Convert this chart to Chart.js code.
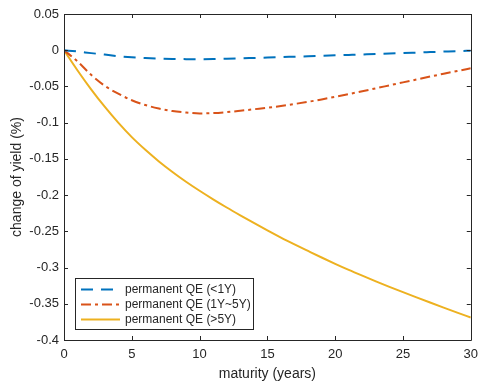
<!DOCTYPE html>
<html><head><meta charset="utf-8">
<script src="https://cdn.jsdelivr.net/npm/chart.js@4/dist/chart.umd.min.js"></script>
<style>html,body{margin:0;padding:0;background:#fff;}</style>
</head><body>
<canvas id="c" width="485" height="381" style="display:block;width:485px;height:381px"></canvas>
<script>
// ---- data ----
const maturity = [0,1,2,3,4,5,6,7,8,9,10,11,12,13,14,15,16,17,18,19,20,21,22,23,24,25,26,27,28,29,30];
const qeShort = [0,-0.0018,-0.0040,-0.0060,-0.0082,-0.0098,-0.0108,-0.0115,-0.0120,-0.0123,-0.0124,-0.0122,-0.0118,-0.0113,-0.0107,-0.0101,-0.0095,-0.0089,-0.0083,-0.0077,-0.0071,-0.0065,-0.0059,-0.0053,-0.0046,-0.0040,-0.0033,-0.0026,-0.0019,-0.0012,-0.0006];
const qeMid = [0,-0.0155,-0.0340,-0.0490,-0.0600,-0.0690,-0.0757,-0.0805,-0.0840,-0.0860,-0.0873,-0.0868,-0.0855,-0.0836,-0.0815,-0.0795,-0.0770,-0.0742,-0.0712,-0.0679,-0.0643,-0.0605,-0.0566,-0.0526,-0.0485,-0.0444,-0.0404,-0.0364,-0.0325,-0.0287,-0.0250];
const qeLong = [0,-0.0280,-0.0540,-0.0780,-0.1000,-0.1200,-0.1375,-0.1535,-0.1680,-0.1815,-0.1940,-0.2058,-0.2171,-0.2279,-0.2384,-0.2487,-0.2586,-0.2680,-0.2771,-0.2861,-0.2948,-0.3032,-0.3112,-0.3190,-0.3266,-0.3340,-0.3412,-0.3483,-0.3553,-0.3622,-0.3690];
const seriesLabels = ['permanent QE (<1Y)', 'permanent QE (1Y~5Y)', 'permanent QE (>5Y)'];
const xTicks = [0,5,10,15,20,25,30];
const yTicks = [0.05,0,-0.05,-0.1,-0.15,-0.2,-0.25,-0.3,-0.35,-0.4];
const xTitle = 'maturity (years)';
const yTitle = 'change of yield (%)';

const AX = '#262626';
const FONT = '"Liberation Sans", Arial, Helvetica, sans-serif';

function pts(ys){ return maturity.map((x,i)=>({x:x,y:ys[i]})); }
function fmt(v){ const r = Math.round(v*100)/100; return r === 0 ? '0' : String(r); }

const boxPlugin = {
  id: 'matlabBox',
  afterDatasetsDraw(chart){
    const {ctx, chartArea:a, scales:{x,y}} = chart;
    ctx.save();
    ctx.strokeStyle = AX; ctx.lineWidth = 1;
    ctx.beginPath();
    ctx.rect(Math.round(a.left)+0.5, Math.round(a.top)+0.5, Math.round(a.right-a.left), Math.round(a.bottom-a.top));
    ctx.stroke();
    const tl = 4;
    ctx.beginPath();
    xTicks.forEach(v=>{ const p = Math.round(x.getPixelForValue(v))+0.5;
      ctx.moveTo(p,a.bottom); ctx.lineTo(p,a.bottom-tl);
      ctx.moveTo(p,a.top); ctx.lineTo(p,a.top+tl); });
    yTicks.forEach(v=>{ const p = Math.round(y.getPixelForValue(v))+0.5;
      ctx.moveTo(a.left,p); ctx.lineTo(a.left+tl,p);
      ctx.moveTo(a.right,p); ctx.lineTo(a.right-tl,p); });
    ctx.stroke();
    ctx.restore();
  },
  afterDraw(chart){
    const {ctx} = chart;
    const ds = chart.data.datasets;
    ctx.save();
    const bx = 75.5, by = 278.5, bw = 178, bh = 51;
    ctx.fillStyle = '#fff'; ctx.fillRect(bx,by,bw,bh);
    ctx.strokeStyle = AX; ctx.lineWidth = 1; ctx.strokeRect(bx,by,bw,bh);
    ctx.font = '12px ' + FONT; ctx.textBaseline = 'middle'; ctx.fillStyle = AX;
    const rows = [289.5, 304.5, 319.5];
    ds.forEach((d,i)=>{
      ctx.save();
      ctx.strokeStyle = d.borderColor; ctx.lineWidth = d.borderWidth;
      ctx.setLineDash(d.borderDash || []);
      ctx.beginPath(); ctx.moveTo(81, rows[i]); ctx.lineTo(120, rows[i]); ctx.stroke();
      ctx.restore();
      ctx.fillText(d.label, 125, rows[i]);
    });
    ctx.restore();
  }
};

new Chart(document.getElementById('c'), {
  type: 'line',
  data: { datasets: [
    { label: seriesLabels[0], data: pts(qeShort), borderColor: '#0072BD', borderWidth: 2, borderDash: [12,8], pointRadius: 0, fill: false, cubicInterpolationMode: 'monotone' },
    { label: seriesLabels[1], data: pts(qeMid), borderColor: '#D95319', borderWidth: 2, borderDash: [10,4,3,4], pointRadius: 0, fill: false, cubicInterpolationMode: 'monotone' },
    { label: seriesLabels[2], data: pts(qeLong), borderColor: '#EDB120', borderWidth: 2, pointRadius: 0, fill: false, cubicInterpolationMode: 'monotone' }
  ]},
  options: {
    responsive: false, animation: false, devicePixelRatio: 1,
    layout: { padding: { top: 14, right: 8, left: 0, bottom: 0 } },
    plugins: { legend: { display: false }, tooltip: { enabled: false } },
    scales: {
      x: { type: 'linear', min: 0, max: 30,
        afterBuildTicks: s => { s.ticks = xTicks.map(v=>({value:v})); },
        afterFit: s => { s.height = 41; },
        grid: { display: false, drawTicks: false }, border: { display: false },
        ticks: { color: AX, font: { family: FONT, size: 13 }, padding: 7, maxRotation: 0, callback: v => fmt(v) },
        title: { display: true, text: xTitle, color: AX, font: { family: FONT, size: 14 }, padding: { top: 0, bottom: -1.5 } } },
      y: { type: 'linear', min: -0.4, max: 0.05,
        afterBuildTicks: s => { s.ticks = yTicks.map(v=>({value:v})); },
        afterFit: s => { s.width = 64; },
        grid: { display: false, drawTicks: false }, border: { display: false },
        ticks: { color: AX, font: { family: FONT, size: 13 }, padding: 5, callback: v => fmt(v) },
        title: { display: true, text: yTitle, color: AX, font: { family: FONT, size: 14 }, padding: { top: 9, bottom: 0 } } }
    }
  },
  plugins: [boxPlugin]
});
</script>
</body></html>
